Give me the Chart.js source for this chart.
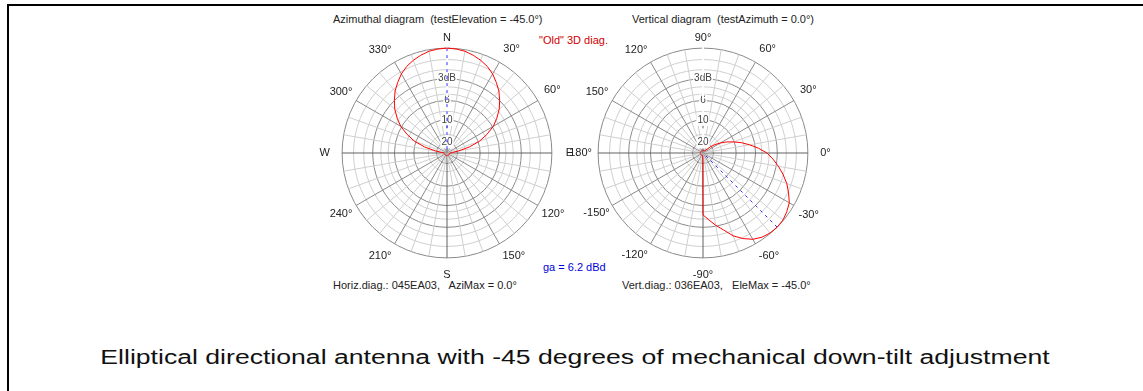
<!DOCTYPE html>
<html>
<head>
<meta charset="utf-8">
<script src="https://cdn.jsdelivr.net/npm/chart.js@4.4.0/dist/chart.umd.min.js"></script>
<style>
  body { margin: 0; background: #fff; width: 1143px; height: 391px; overflow: hidden; position: relative; font-family: Arial, "Liberation Sans", sans-serif; }
  .frame { position: absolute; left: 7px; top: 4px; right: -5px; bottom: -10px; border-top: 2px solid #000; border-left: 2px solid #000; }
  .txt { position: absolute; font-size: 11px; color: #222; white-space: pre; line-height: 13px; }
  .box { position: absolute; width: 300px; height: 258px; }
  #caption { position: absolute; left: 0; width: 1150px; text-align: center; top: 346px; font-size: 20px; color: #111; transform: scaleX(1.33); transform-origin: 575px 0; }
</style>
</head>
<body>
<div class="frame"></div>

<div class="txt" style="left:333px;top:13px">Azimuthal diagram  (testElevation = -45.0°)</div>
<div class="txt" style="left:632px;top:13px">Vertical diagram  (testAzimuth = 0.0°)</div>
<div class="txt" style="left:539px;top:34px;color:#d00000">"Old" 3D diag.</div>
<div class="txt" style="left:543px;top:261px;color:#0000dd">ga = 6.2 dBd</div>
<div class="txt" style="left:333px;top:279px">Horiz.diag.: 045EA03,   AziMax = 0.0°</div>
<div class="txt" style="left:622px;top:279px">Vert.diag.: 036EA03,   EleMax = -45.0°</div>

<div class="box" style="left:297px;top:25px"><canvas id="azi" width="300" height="258"></canvas></div>
<div class="box" style="left:553px;top:25px"><canvas id="ele" width="300" height="258"></canvas></div>

<div id="caption">Elliptical directional antenna with -45 degrees of mechanical down-tilt adjustment</div>

<script>
// ring levels are relative field strength (1 = 0 dB)
const ringLevels = [0, 0.1, 0.178, 0.316, 0.398, 0.501, 0.562, 0.631, 0.708, 0.794, 0.891, 1];
const ringText   = ['', '20', '', '10', '', '6', '', '', '3dB', '', '', ''];

// one spoke every 5 degrees, clockwise from the top
const azimuthTickText   = ['N', '30°', '60°', 'E', '120°', '150°', 'S', '210°', '240°', 'W', '300°', '330°'];
const elevationTickText = ['90°', '60°', '30°', '0°', '-30°', '-60°', '-90°', '-120°', '-150°', '180°', '150°', '120°'];

// azimuth 0, 5, 10 ... 355
const azimuthLevel = [
  1.00, 0.995, 0.985, 0.965, 0.94, 0.91, 0.87, 0.82, 0.77, 0.71, 0.65, 0.58, 0.51, 0.42, 0.33, 0.22, 0.11, 0.05,
  0.025, 0.025, 0.025, 0.025, 0.025, 0.025, 0.025, 0.025, 0.025, 0.025, 0.025, 0.025, 0.025, 0.025, 0.025, 0.025, 0.025, 0.025, 0.025,
  0.025, 0.025, 0.025, 0.025, 0.025, 0.025, 0.025, 0.025, 0.025, 0.025, 0.025, 0.025, 0.025, 0.025, 0.025, 0.025, 0.025, 0.025,
  0.05, 0.11, 0.22, 0.33, 0.42, 0.51, 0.58, 0.65, 0.71, 0.77, 0.82, 0.87, 0.91, 0.94, 0.965, 0.985, 0.995
];

// elevation 90, 85, 80 ... -180 ... 95
const elevationLevel = [
  0.025, 0.025, 0.025, 0.025, 0.025, 0.025, 0.025, 0.025, 0.025,
  0.04, 0.09, 0.14, 0.19, 0.25, 0.31, 0.38, 0.45, 0.53, 0.61, 0.67, 0.73, 0.79, 0.85, 0.90, 0.95, 0.975, 0.995,
  1.00, 0.995, 0.98, 0.95, 0.90, 0.84, 0.76, 0.70, 0.64, 0.59,
  0.025, 0.025, 0.025, 0.025, 0.025, 0.025, 0.025, 0.025, 0.025, 0.025, 0.025, 0.025, 0.025, 0.025, 0.025, 0.025, 0.025, 0.025,
  0.025, 0.025, 0.025, 0.025, 0.025, 0.025, 0.025, 0.025, 0.025, 0.025, 0.025, 0.025, 0.025, 0.025, 0.025, 0.025, 0.025
];

const aziMax = 0.0;     // degrees azimuth
const eleMax = -45.0;   // degrees elevation

const STEP = 5;
const SPOKES = 360 / STEP;
const FONT = 'Arial, "Liberation Sans", sans-serif';
const LABEL_GAP = 11.5;   // label centres sit this far outside the 0 dB ring

const measure = document.createElement('canvas').getContext('2d');
measure.font = '11px ' + FONT;

function spokeLabels(tickText) {
  return Array.from({ length: SPOKES }, (_, i) => i % 6 === 0 ? tickText[i / 6] : '');
}

function maxRay(index) {
  const ray = new Array(SPOKES).fill(null);
  ray[index] = 1;
  ray[(index + 1) % SPOKES] = 0;
  return ray;
}

// chart.js anchors a label by its corner, the old plot centres it on the spoke
function labelPadding(ctx) {
  if (!ctx.label) return 4;
  const th = ctx.index * STEP * Math.PI / 180;
  const w = measure.measureText(ctx.label).width;
  let p = LABEL_GAP - w / 2 * Math.abs(Math.sin(th)) - 6.6 * Math.abs(Math.cos(th));
  if (ctx.index === 0) p -= 7;
  return p;
}

function makePolar(id, labels, levels, ray) {
  return new Chart(document.getElementById(id), {
    type: 'radar',
    data: {
      labels: labels,
      datasets: [
        { data: levels, borderColor: '#ff0000', borderWidth: 1, pointRadius: 0, fill: false, tension: 0 },
        { data: ray, borderColor: '#3030ff', borderWidth: 1, borderDash: [3, 4], pointRadius: 0, fill: false, spanGaps: false }
      ]
    },
    options: {
      responsive: false,
      animation: false,
      plugins: { legend: { display: false }, tooltip: { enabled: false } },
      scales: {
        r: {
          min: 0,
          max: 1,
          afterBuildTicks: s => { s.ticks = ringLevels.map(v => ({ value: v })); },
          grid: {
            circular: true,
            color: ctx => (ringText[ctx.index] || ctx.index === ringLevels.length - 1) ? '#8a8a8a' : '#cfcfcf',
            lineWidth: 1
          },
          angleLines: {
            color: ctx => ctx.index % 18 === 0 ? '#606060' : ctx.index % 6 === 0 ? '#8a8a8a' : ctx.index % 2 === 0 ? '#cfcfcf' : 'rgba(0,0,0,0)',
            lineWidth: 1
          },
          pointLabels: {
            padding: labelPadding,
            color: '#222',
            font: { size: 11, family: FONT }
          },
          ticks: {
            callback: (v, i) => ringText[i],
            color: '#444',
            font: { size: 10, family: FONT },
            backdropColor: '#fff',
            backdropPadding: 1
          }
        }
      }
    }
  });
}

makePolar('azi', spokeLabels(azimuthTickText), azimuthLevel, maxRay(aziMax / STEP));
makePolar('ele', spokeLabels(elevationTickText), elevationLevel, maxRay((90 - eleMax) / STEP));
</script>
</body>
</html>
